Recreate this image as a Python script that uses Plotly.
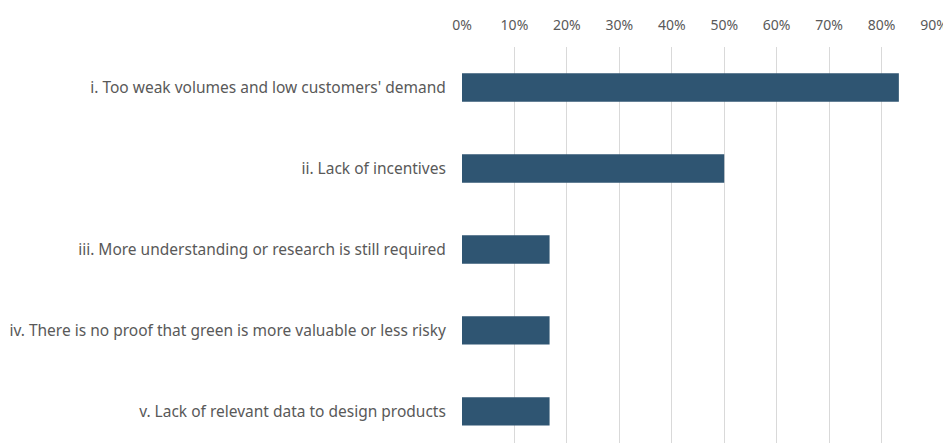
import plotly.graph_objects as go

categories = [
    "i. Too weak volumes and low customers' demand",
    "ii. Lack of incentives",
    "iii. More understanding or research is still required",
    "iv. There is no proof that green is more valuable or less risky",
    "v. Lack of relevant data to design products",
]
values = [0.833, 0.50, 0.167, 0.167, 0.167]
tick_vals = [0, 0.1, 0.2, 0.3, 0.4, 0.5, 0.6, 0.7, 0.8, 0.9]
tick_text = ["0%", "10%", "20%", "30%", "40%", "50%", "60%", "70%", "80%", "90%"]

fig = go.Figure(go.Bar(
    y=categories, x=values, orientation="h",
    marker=dict(color="#2F5572", line=dict(width=0)),
    width=0.35,
))

# page body has an 8px default margin, so the figure is sized to fit inside it
font_family = "Noto Sans, Open Sans, sans-serif"
fig.update_layout(
    width=943, height=435,
    margin=dict(l=454, r=17, t=39, b=0),
    paper_bgcolor="white", plot_bgcolor="white",
    showlegend=False,
    font=dict(family=font_family, size=14, color="#595959"),
    xaxis=dict(
        side="top", range=[0, 0.9], tickvals=tick_vals, ticktext=tick_text,
        showgrid=True, gridcolor="#D9D9D9", gridwidth=1,
        zeroline=False, showline=False, automargin=False,
        ticks="outside", ticklen=10, tickcolor="rgba(0,0,0,0)",
        tickfont=dict(size=14, color="#595959"),
    ),
    yaxis=dict(
        categoryorder="array", categoryarray=categories,
        range=[4.39, -0.5], automargin=False,
        showgrid=False, zeroline=False, showline=False,
        ticks="outside", ticklen=12, tickcolor="rgba(0,0,0,0)",
        tickfont=dict(size=15.5, color="#595959"),
    ),
)

fig.write_html("out.html")
